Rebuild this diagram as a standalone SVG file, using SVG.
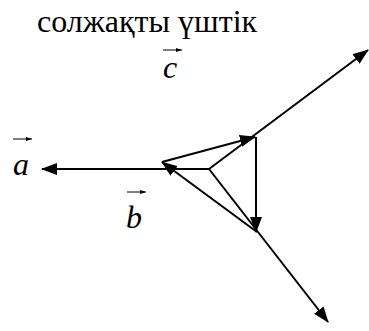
<svg xmlns="http://www.w3.org/2000/svg" width="369" height="331" viewBox="0 0 369 331">
<style>
.t{font-family:"Liberation Serif","Times New Roman",serif;font-size:32px;fill:#000}
.i{font-style:italic}
.e{stroke:#000;stroke-width:2;fill:none}
.s{stroke:#000;stroke-width:1;fill:none}
</style>
<defs>
<marker id="ah" markerUnits="userSpaceOnUse" markerWidth="16" markerHeight="12" refX="15" refY="6" orient="auto"><path d="M0,0 L16,6 L0,12 z" fill="#000"/></marker>
<marker id="sh" markerUnits="userSpaceOnUse" markerWidth="6" markerHeight="4" refX="6" refY="2" orient="auto"><path d="M0,0 L6,2 L0,4 z" fill="#000"/></marker>
</defs>
<g id="title"><text class="t" x="37" y="32">солжақты үштік</text></g>
<g id="label-c"><text class="t i" x="163" y="78">c</text><line class="s" x1="163" y1="50" x2="182" y2="50" marker-end="url(#sh)"/></g>
<g id="label-a"><text class="t i" x="13" y="175">a</text><line class="s" x1="13" y1="139" x2="32" y2="139" marker-end="url(#sh)"/></g>
<g id="label-b"><text class="t i" x="126" y="228">b</text><line class="s" x1="127" y1="192" x2="146" y2="192" marker-end="url(#sh)"/></g>
<g id="connectors">
<line class="e" x1="209" y1="169" x2="42" y2="169" marker-end="url(#ah)"/>
<line class="e" x1="209" y1="169" x2="368" y2="50" marker-end="url(#ah)"/>
<line class="e" x1="209" y1="169" x2="328" y2="322" marker-end="url(#ah)"/>
<line class="e" x1="162" y1="162" x2="255" y2="137" marker-end="url(#ah)"/>
<line class="e" x1="256" y1="137" x2="256" y2="232" marker-end="url(#ah)"/>
<line class="e" x1="257" y1="232" x2="162" y2="162" marker-end="url(#ah)"/>
</g>
</svg>
